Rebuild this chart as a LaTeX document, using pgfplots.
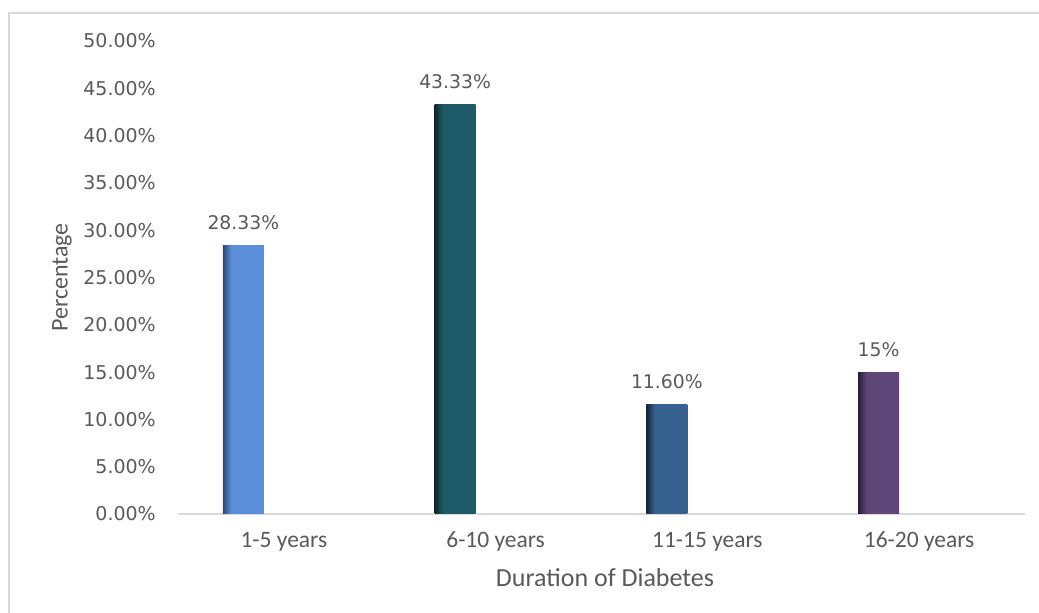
\documentclass[border=0pt]{standalone}
\usepackage{pgfplots}
\pgfplotsset{compat=1.18}
\usepackage{fontspec}
\setmainfont{Carlito}
\newfontfamily\dejavu{DejaVu Sans}
\definecolor{txtgray}{HTML}{595959}
\definecolor{axgray}{HTML}{D9D9D9}
\definecolor{framegray}{HTML}{D9D9D9}
\pgfdeclarehorizontalshading{shA}{100bp}{rgb(0bp)=(0.17,0.29,0.47); rgb(25bp)=(0.17,0.29,0.47); rgb(35bp)=(0.353,0.557,0.847); rgb(100bp)=(0.353,0.557,0.847)}
\pgfdeclarehorizontalshading{shB}{100bp}{rgb(0bp)=(0.05,0.15,0.17); rgb(25bp)=(0.05,0.15,0.17); rgb(35bp)=(0.122,0.357,0.40); rgb(100bp)=(0.122,0.357,0.40)}
\pgfdeclarehorizontalshading{shC}{100bp}{rgb(0bp)=(0.08,0.145,0.23); rgb(25bp)=(0.08,0.145,0.23); rgb(35bp)=(0.212,0.38,0.56); rgb(100bp)=(0.212,0.38,0.56)}
\pgfdeclarehorizontalshading{shD}{100bp}{rgb(0bp)=(0.16,0.11,0.22); rgb(25bp)=(0.16,0.11,0.22); rgb(35bp)=(0.369,0.278,0.47); rgb(100bp)=(0.369,0.278,0.47)}
\begin{document}
\begin{tikzpicture}
\useasboundingbox (-178pt,-99pt) rectangle (861pt,514pt);
\draw[framegray, line width=1.2pt] (-169pt,501pt) rectangle (880pt,-120pt);
\begin{axis}[
  at={(0pt,0pt)}, anchor=south west,
  scale only axis, width=847pt, height=473pt,
  xmin=-0.5, xmax=3.5, ymin=0, ymax=50,
  axis x line*=bottom, axis y line*=left,
  x axis line style={draw=axgray, line width=1.5pt, -},
  y axis line style={draw=none},
  major tick length=0pt,
  xtick={0,1,2,3},
  xticklabels={1-5 years,6-10 years,11-15 years,16-20 years},
  ytick={0,5,...,50},
  /pgf/number format/assume math mode=true,
  yticklabel={\pgfmathprintnumber[fixed,fixed zerofill,precision=2]{\tick}\%},
  yticklabel style={font=\dejavu\fontsize{19}{21}\selectfont, text=txtgray, anchor=east, inner sep=0pt, xshift=-22pt},
  xticklabel style={font=\fontsize{23.5}{27}\selectfont, text=txtgray, anchor=base, inner sep=0pt, yshift=-34pt},
  xlabel={Duration of Diabetes},
  ylabel={Percentage},
  every axis x label/.style={at={(axis description cs:0.5,0)}, anchor=base, yshift=-72pt, xshift=3.5pt, font=\fontsize{26}{29}\selectfont, text=txtgray},
  every axis y label/.style={at={(axis description cs:-0.137,0.5)}, anchor=center, rotate=90, font=\fontsize{24}{28}\selectfont, text=txtgray},
  every node near coord/.append style={font=\dejavu\fontsize{18.8}{21}\selectfont, text=txtgray, anchor=base, inner sep=0pt, yshift=16pt, xshift=-40.5pt},
  clip=false,
]
\addplot[ybar, bar width=0.193, bar shift=-0.191, draw=none, shade, shading=shA, nodes near coords={28.33\%}] coordinates {(0,28.33)};
\addplot[ybar, bar width=0.193, bar shift=-0.191, draw=none, shade, shading=shB, nodes near coords={43.33\%}] coordinates {(1,43.33)};
\addplot[ybar, bar width=0.193, bar shift=-0.191, draw=none, shade, shading=shC, nodes near coords={11.60\%}] coordinates {(2,11.60)};
\addplot[ybar, bar width=0.193, bar shift=-0.191, draw=none, shade, shading=shD, nodes near coords={15\%}] coordinates {(3,15)};
\end{axis}
\end{tikzpicture}
\end{document}
